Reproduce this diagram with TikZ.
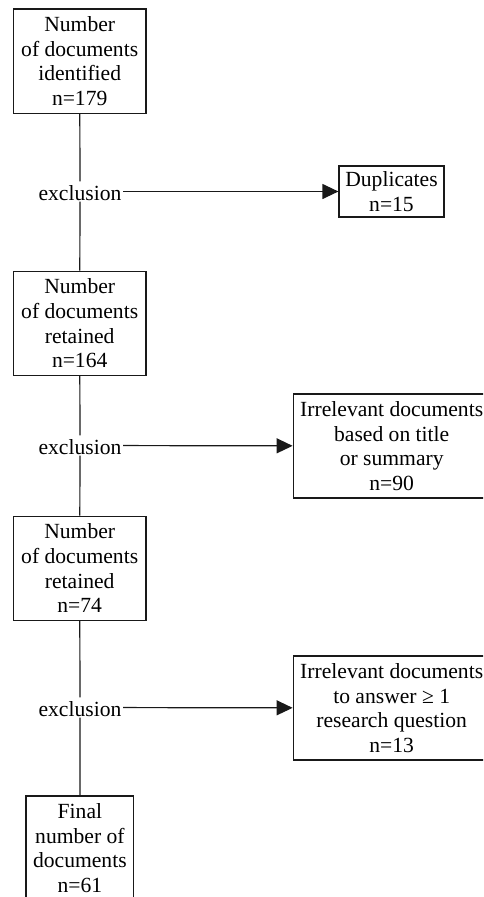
\documentclass[tikz,border=0pt]{standalone}
\usepackage{fontspec}
\setmainfont{Liberation Serif}
\usetikzlibrary{arrows.meta}
\begin{document}
\begin{tikzpicture}[x=1pt,y=-1pt,
  txt/.style={font=\fontsize{21.6}{24.7}\selectfont},
  stepbox/.style={txt,draw=black!90,line width=1.2pt,inner sep=0pt,align=center,anchor=center},
  mainbox/.style={stepbox,minimum width=132.7pt,minimum height=104.3pt},
  exlabel/.style={txt,fill=white,inner sep=1.5pt,text height=17pt,text depth=0pt},
  link/.style={draw=black!90,line width=1.2pt},
  arr/.style={link,-{Triangle[length=16pt,width=15pt]}}]
\useasboundingbox (0,0) rectangle (483,897);
\clip (0,0) rectangle (483,897);
\node[mainbox] (b1) at (79.7,61.2) {Number\\of documents\\identified\\n=179};
\node[mainbox] (b2) at (79.7,323.3) {Number\\of documents\\retained\\n=164};
\node[mainbox] (b3) at (79.7,568.3) {Number\\of documents\\retained\\n=74};
\node[stepbox,minimum width=107.7pt,minimum height=104pt] (b4) at (79.9,848) {Final\\number of\\documents\\n=61};
\node[stepbox,minimum width=105pt,minimum height=51pt] (d1) at (391.5,191.5) {Duplicates\\n=15};
\node[stepbox,minimum width=197pt,minimum height=104pt] (d2) at (391.7,446) {Irrelevant documents\\based on title\\or summary\\n=90};
\node[stepbox,minimum width=197pt,minimum height=104pt] (d3) at (391.7,708) {Irrelevant documents\\to answer ≥ 1\\research question\\n=13};
\node[exlabel] (e1) at (80,191.5) {exclusion};
\node[exlabel] (e2) at (80,445.5) {exclusion};
\node[exlabel] (e3) at (80,707.5) {exclusion};
\draw[link] (b1) -- (e1) -- (b2);
\draw[link] (b2) -- (e2) -- (b3);
\draw[link] (b3) -- (e3) -- (b4);
\draw[arr] (e1) -- (d1);
\draw[arr] (e2) -- (d2);
\draw[arr] (e3) -- (d3);
\end{tikzpicture}
\end{document}
